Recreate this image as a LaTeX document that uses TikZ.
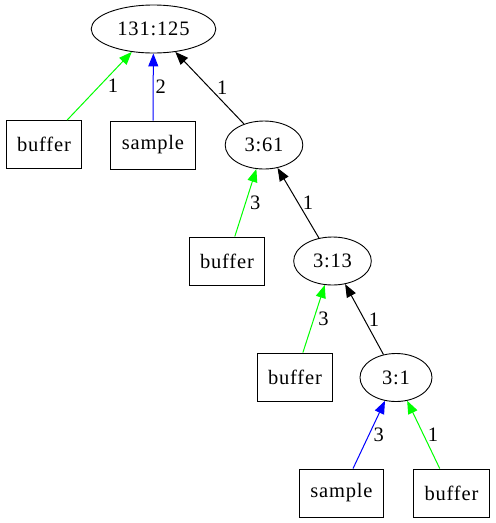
\documentclass[tikz,border=0pt]{standalone}
\usepackage{fontspec}
\newfontfamily\gvfont[LetterSpace=4]{Liberation Serif}
\usepackage{tikz}
\usetikzlibrary{shapes.geometric, arrows.meta, positioning}

\begin{document}
\begin{tikzpicture}[x=1pt, y=-1pt,
    font=\gvfont\fontsize{20.5}{24}\selectfont,
    countnode/.style={draw, ellipse, line width=0.9pt, inner xsep=8pt, minimum width=72pt, minimum height=48pt},
    leafbox/.style={draw, rectangle, line width=0.9pt, inner xsep=11pt, minimum height=48pt},
    edgeto/.style={line width=1pt, color=#1, -{Triangle[length=13pt, width=10pt]}},
    weight/.style={midway, right, inner sep=4pt, text=black}]
  \useasboundingbox (0,0) rectangle (496,523);

  \node[countnode] (root) at (153.5,29) {131:125};
  \node[leafbox] (buf1) at (44,144.5) {buffer};
  \node[leafbox] (smp1) at (153,145) {sample};
  \node[countnode] (n361) at (264,145) {3:61};
  \node[leafbox] (buf2) at (227,261) {buffer};
  \node[countnode] (n313) at (332.5,261) {3:13};
  \node[leafbox] (buf3) at (295,377) {buffer};
  \node[countnode] (n31) at (396,377.5) {3:1};
  \node[leafbox] (smp2) at (341.5,493) {sample};
  \node[leafbox] (buf4) at (451.5,493) {buffer};

  \draw[edgeto=green] (buf1) -- (root) node[weight, inner sep=8pt] {1};
  \draw[edgeto=blue] (smp1.north) -- (root) node[weight, inner sep=2pt] {2};
  \draw[edgeto=black] (n361) -- (root) node[weight, inner sep=7pt] {1};
  \draw[edgeto=green] (buf2) -- (n361) node[weight] {3};
  \draw[edgeto=black] (n313) -- (n361) node[weight] {1};
  \draw[edgeto=green] (buf3) -- (n313) node[weight] {3};
  \draw[edgeto=black] (n31) -- (n313) node[weight] {1};
  \draw[edgeto=blue] (smp2) -- (n31) node[weight] {3};
  \draw[edgeto=green] (buf4) -- (n31) node[weight] {1};
\end{tikzpicture}
\end{document}
